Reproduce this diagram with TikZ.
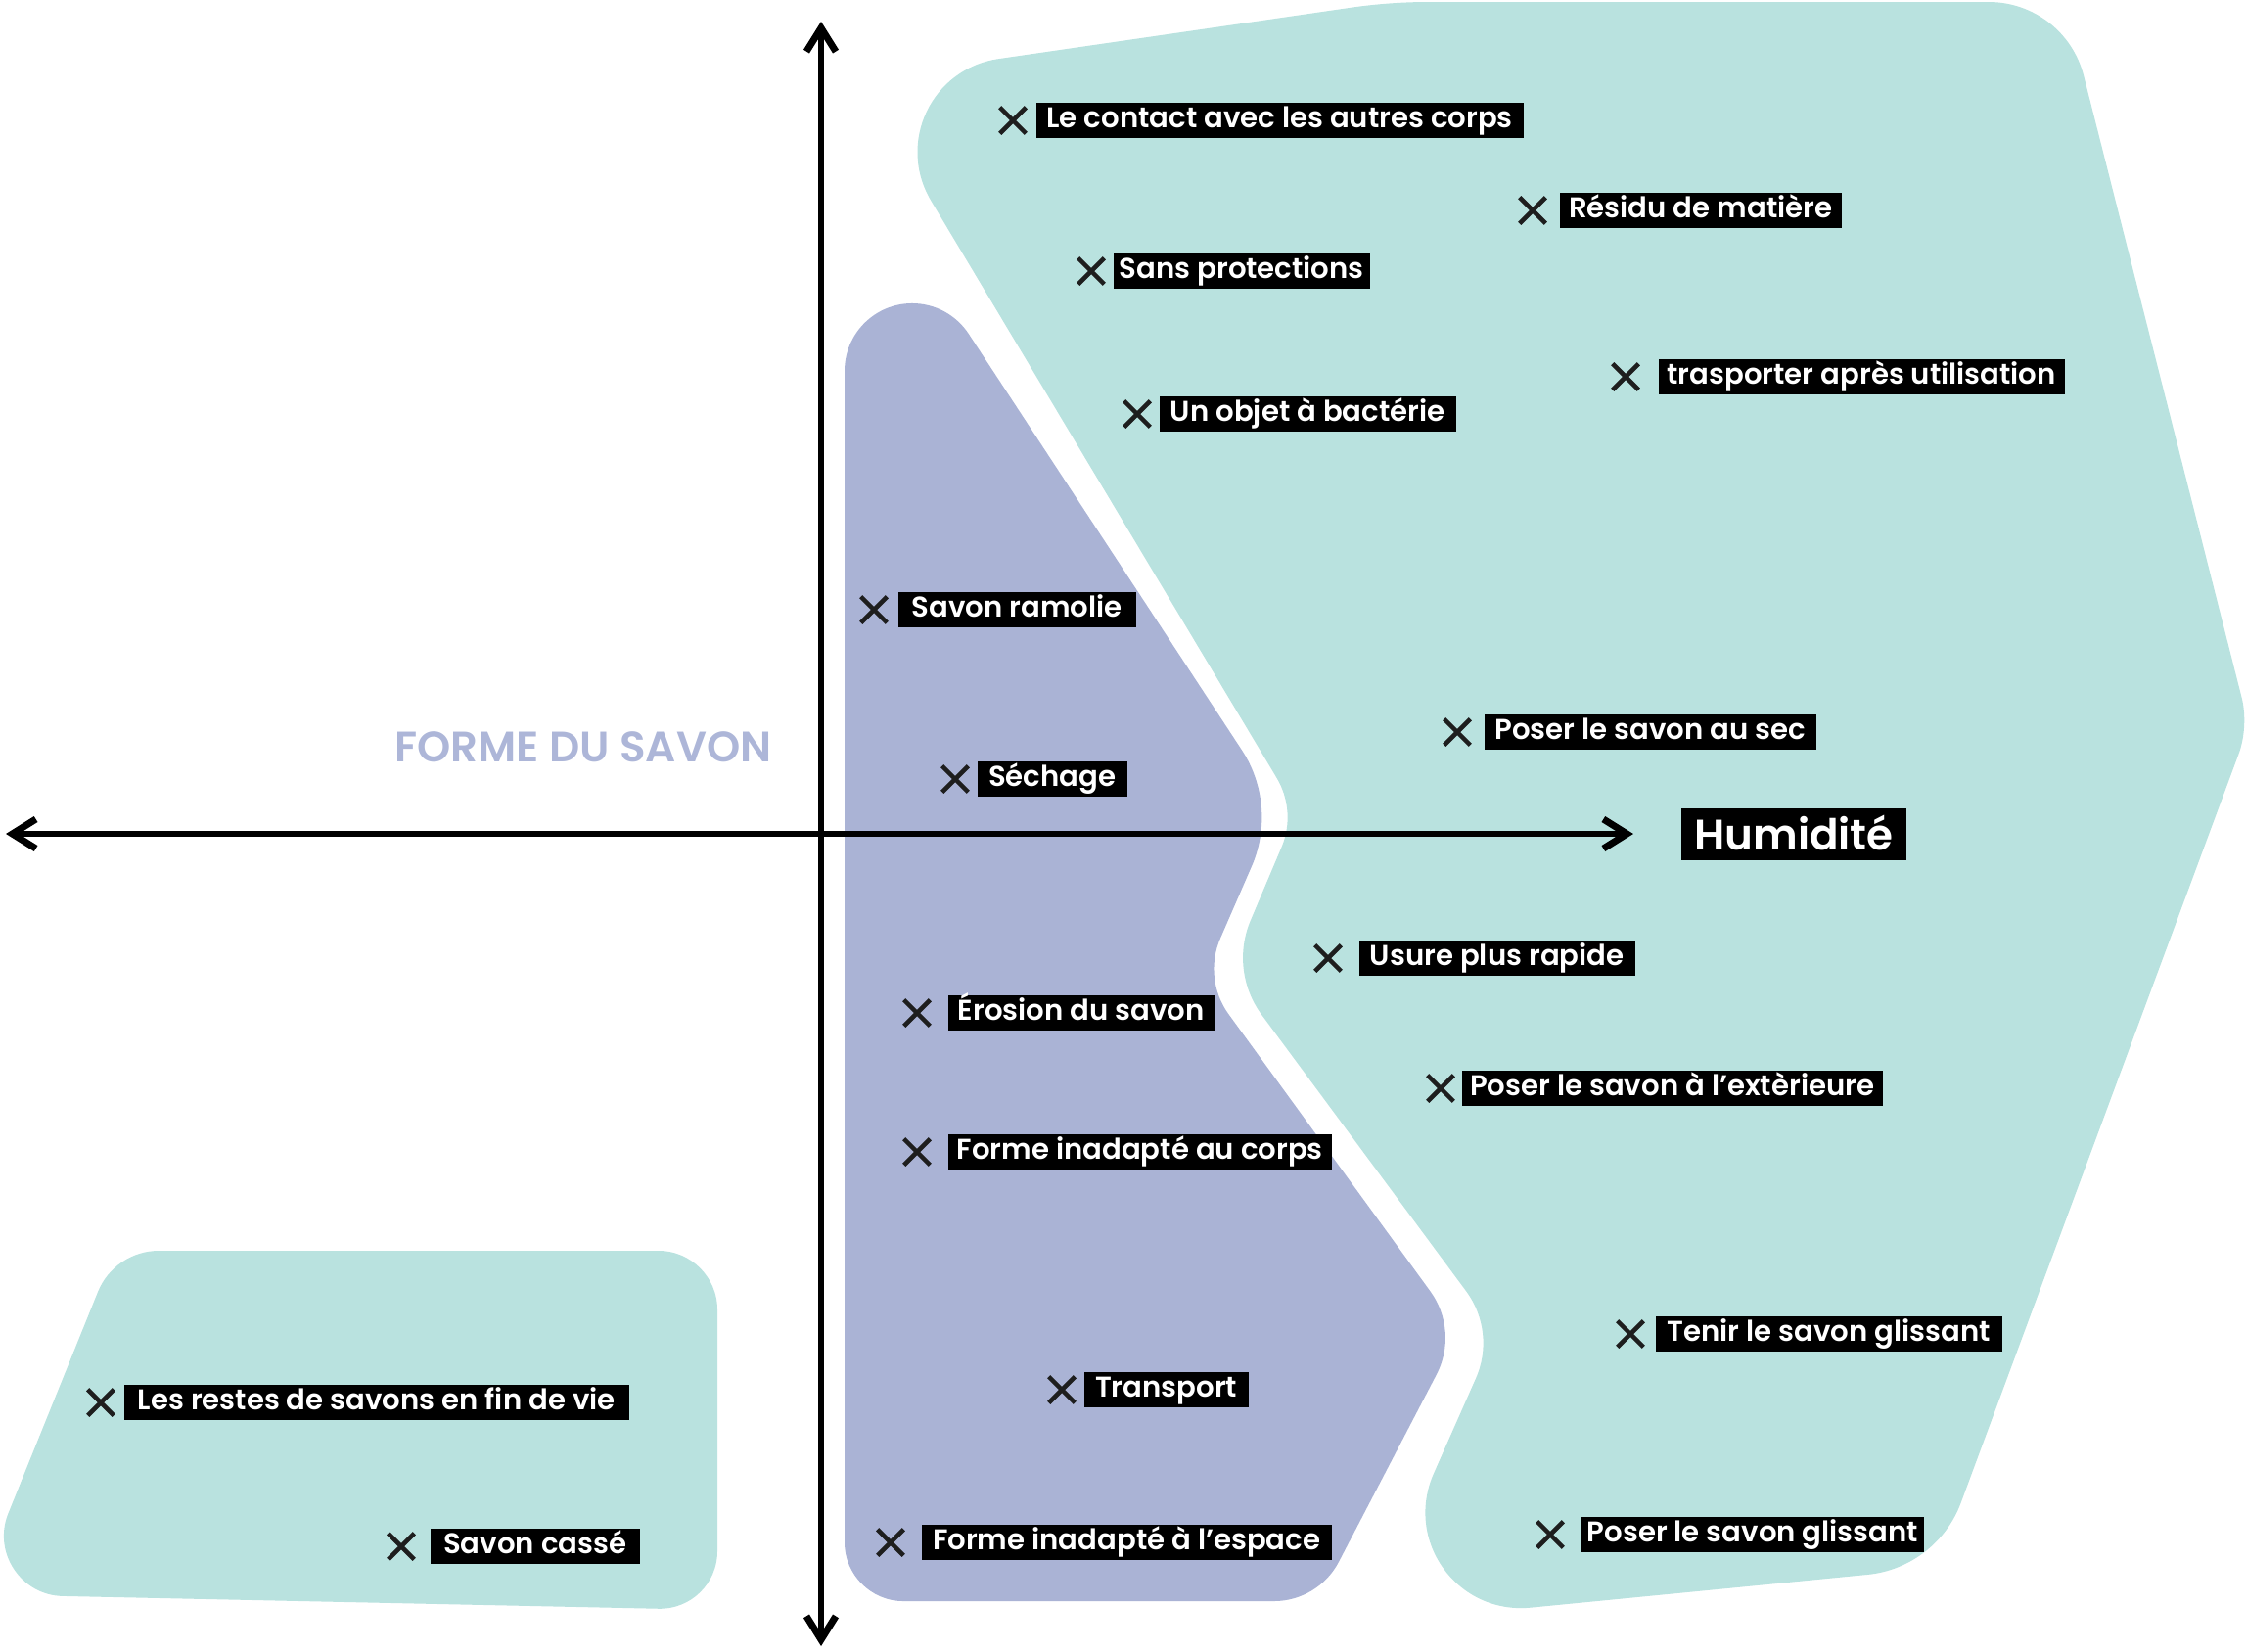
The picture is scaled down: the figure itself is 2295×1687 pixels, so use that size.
\documentclass[tikz,border=0pt]{standalone}
\usepackage{fontspec}
\setmainfont{Poppins}[UprightFont=* SemiBold]
\usetikzlibrary{arrows.meta,calc,shapes.misc}
\definecolor{turquoisePale}{HTML}{B9E2DF}
\definecolor{lavande}{HTML}{AAB3D5}
\definecolor{lavandeTexte}{HTML}{ADB6D8}
\definecolor{noirCroix}{HTML}{1E1E1E}
% coin arrondi : sommet, precedent, suivant, longueur, facteur
\newcommand\arrondi[5]{%
  \coordinate (#1a) at ($(#1)!#4!(#2)$);
  \coordinate (#1b) at ($(#1)!#4!(#3)$);
  \coordinate (#1c) at ($(#1a)!#5!(#1)$);
  \coordinate (#1d) at ($(#1b)!#5!(#1)$);}

\begin{document}
\begin{tikzpicture}[x=0.01cm,y=0.01cm,
  etiquette/.style={fill=black,text=white,anchor=west,inner xsep=0.06cm,inner ysep=0pt,
    text height=0.25cm,text depth=0.105cm,font=\fontsize{8.3}{9}\selectfont},
  croix/.style={cross out,draw=noirCroix,line width=1.3pt,minimum size=0.22cm,inner sep=0pt},
  axe/.style={line width=1.7pt,{Straight Barb[length=2.4mm,width=3mm,line width=2pt]}-{Straight Barb[length=2.4mm,width=3mm,line width=2pt]}}]
  \useasboundingbox (0,0) rectangle (2295,-1687);

  % grande zone turquoise
  \coordinate (T1) at (877,-81);
  \coordinate (T2) at (1420,-2);
  \coordinate (T3) at (2110,-2);
  \coordinate (T4) at (2298,-742);
  \coordinate (T5) at (1979,-1602);
  \coordinate (T6) at (1397,-1659);
  \coordinate (T7) at (1529,-1361);
  \coordinate (T8) at (1256,-992);
  \coordinate (T9) at (1325,-829);
  \arrondi{T1}{T9}{T2}{1.45cm}{.48}
  \arrondi{T2}{T1}{T3}{0.4cm}{.66}
  \arrondi{T3}{T2}{T4}{0.78cm}{.59}
  \arrondi{T4}{T3}{T5}{0.3cm}{.6}
  \arrondi{T5}{T4}{T6}{0.71cm}{.61}
  \arrondi{T6}{T5}{T7}{1.68cm}{.45}
  \arrondi{T7}{T6}{T8}{0.52cm}{.62}
  \arrondi{T8}{T7}{T9}{0.56cm}{.62}
  \arrondi{T9}{T8}{T1}{0.4cm}{.63}
  \fill[turquoisePale] (T1b) -- (T2a) .. controls (T2c) and (T2d) .. (T2b)
    -- (T3a) .. controls (T3c) and (T3d) .. (T3b)
    -- (T4a) .. controls (T4c) and (T4d) .. (T4b)
    -- (T5a) .. controls (T5c) and (T5d) .. (T5b)
    -- (T6a) .. controls (T6c) and (T6d) .. (T6b)
    -- (T7a) .. controls (T7c) and (T7d) .. (T7b)
    -- (T8a) .. controls (T8c) and (T8d) .. (T8b)
    -- (T9a) .. controls (T9c) and (T9d) .. (T9b)
    -- (T1a) .. controls (T1c) and (T1d) .. (T1b) -- cycle;

  % zone lavande
  \coordinate (Lh) at (863,-379);
  \coordinate (Le) at (990,-341);
  \coordinate (L1) at (1306,-823);
  \coordinate (L2) at (1229,-1000);
  \coordinate (L3) at (1491,-1360);
  \coordinate (L4) at (1347,-1636);
  \coordinate (L5) at (863,-1636);
  \arrondi{L1}{Le}{L2}{0.675cm}{.62}
  \arrondi{L2}{L1}{L3}{0.45cm}{.62}
  \arrondi{L3}{L2}{L4}{0.5cm}{.61}
  \arrondi{L4}{L3}{L5}{0.45cm}{.61}
  \arrondi{L5}{L4}{Lh}{0.6cm}{.55}
  \fill[lavande] (Lh) arc[start angle=180,end angle=33.2,radius=0.69cm]
    -- (L1a) .. controls (L1c) and (L1d) .. (L1b)
    -- (L2a) .. controls (L2c) and (L2d) .. (L2b)
    -- (L3a) .. controls (L3c) and (L3d) .. (L3b)
    -- (L4a) .. controls (L4c) and (L4d) .. (L4b)
    -- (L5a) .. controls (L5c) and (L5d) .. (L5b) -- cycle;

  % petite zone turquoise
  \coordinate (S1) at (117,-1278);
  \coordinate (S2) at (733,-1278);
  \coordinate (S3) at (733,-1645);
  \coordinate (S4) at (-25,-1629);
  \arrondi{S1}{S4}{S2}{0.45cm}{.6}
  \arrondi{S2}{S1}{S3}{0.6cm}{.55}
  \arrondi{S3}{S2}{S4}{0.6cm}{.55}
  \arrondi{S4}{S3}{S1}{0.89cm}{.48}
  \fill[turquoisePale] (S1b) -- (S2a) .. controls (S2c) and (S2d) .. (S2b)
    -- (S3a) .. controls (S3c) and (S3d) .. (S3b)
    -- (S4a) .. controls (S4c) and (S4d) .. (S4b)
    -- (S1a) .. controls (S1c) and (S1d) .. (S1b) -- cycle;

  % axes
  \coordinate (haut) at (839,-22);
  \coordinate (bas) at (839,-1682);
  \coordinate (gauche) at (6,-852);
  \coordinate (droite) at (1669,-852);
  \draw[axe] (bas) -- (haut);
  \draw[axe] (gauche) -- (droite);

  \node[anchor=east,inner sep=0pt,text=lavandeTexte,font=\fontsize{12.4}{15}\selectfont]
    (forme) at (789,-763) {FORME DU SAVON};
  \node[etiquette,anchor=center,text height=0.423cm,text depth=0.107cm,minimum width=2.29cm,
    font=\fontsize{12.4}{14}\selectfont] (humidite) at (1833,-852.5) {Humidité};

  % croix et etiquettes
  \foreach \n/\x/\y/\g/\d/\t in {
    1/1035/123/1058/1556/Le contact avec les autres corps,
    2/1566/215/1593/1881/Résidu de matière,
    3/1115/277/1137/1398/Sans protections,
    4/1661/385/1694/2109/trasporter après utilisation,
    5/1162/423/1184/1487/Un objet à bactérie,
    6/893/623/917/1160/Savon ramolie,
    7/1489/748/1516/1855/Poser le savon au sec,
    8/976/796/998/1151/Séchage,
    9/1357/979/1388/1670/Usure plus rapide,
    10/937/1035/968/1240/Érosion du savon,
    11/1472/1112/1493/1923/Poser le savon à l’extèrieure,
    12/937/1177/968/1360/Forme inadapté au corps,
    13/1666/1363/1691/2045/Tenir le savon glissant,
    14/1085/1420/1107/1275/Transport,
    15/1584/1568/1615/1963/Poser le savon glissant,
    16/910/1576/941/1360/Forme inadapté à l’espace,
    17/103/1433/126/642/Les restes de savons en fin de vie,
    18/410/1580/439/653/Savon cassé}{
    \node[croix] (c\n) at (\x,-\y) {};
    \node[etiquette,minimum width={(\d-\g)*0.01cm}] (e\n) at (\g,-\y) {\t};
  }
\end{tikzpicture}
\end{document}
